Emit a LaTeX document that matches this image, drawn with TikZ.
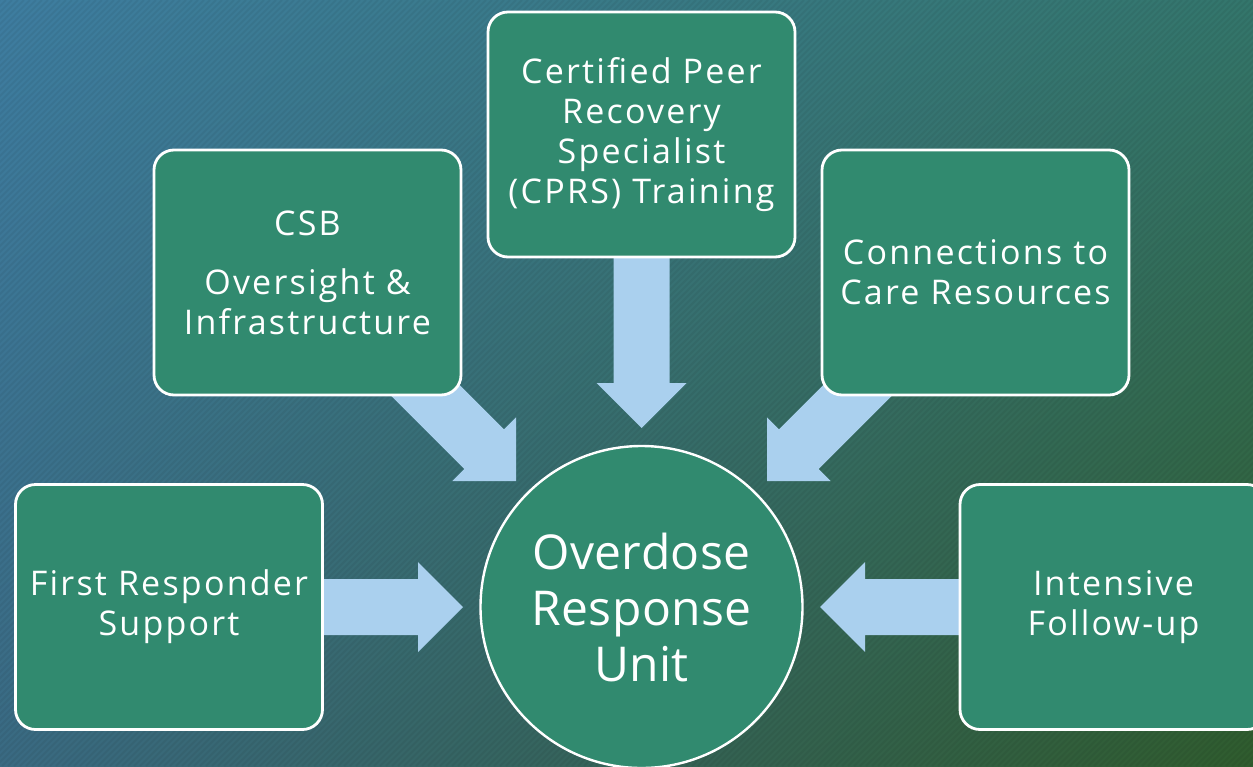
\documentclass[tikz,border=0pt]{standalone}
\usepackage{fontspec}
\setmainfont{Open Sans}
\newfontfamily\boxfont[LetterSpace=6.5]{Open Sans}
\newfontfamily\hubfont[LetterSpace=1]{Open Sans}
\usetikzlibrary{calc,shadings}
\definecolor{boxgreen}{HTML}{318A6F}
\definecolor{arrowblue}{HTML}{AAD0EE}
\definecolor{bgTL}{HTML}{3E7DA0}
\definecolor{bgTR}{HTML}{34766C}
\definecolor{bgBL}{HTML}{3A6A82}
\definecolor{bgBR}{HTML}{305C2E}
\newcommand\bigarrow[2]{%
  \path ($(#2)!45pt!(#1)$) coordinate (#2-b);
  \fill[arrowblue] ($(#1)!28pt!90:(#2)$) -- ($(#2-b)!28pt!90:(#2)$) -- ($(#2-b)!45pt!90:(#2)$)
    -- (#2) -- ($(#2-b)!45pt!-90:(#2)$) -- ($(#2-b)!28pt!-90:(#2)$) -- ($(#1)!28pt!-90:(#2)$) -- cycle;
}
\tikzset{
  infobox/.style={draw=white, line width=2.8pt, fill=boxgreen, rounded corners=20pt,
    minimum width=307pt, minimum height=245pt, text=white, align=center,
    font=\boxfont\fontsize{34}{40}\selectfont, inner sep=0pt},
  hub/.style={circle, draw=white, line width=2.4pt, fill=boxgreen, minimum size=322pt,
    text=white, align=center, font=\hubfont\fontsize{48}{56}\selectfont, inner sep=0pt}
}
\begin{document}
\begin{tikzpicture}[x=1pt,y=-1pt]
\useasboundingbox (0,0) rectangle (1253,766);
\shade[upper left=bgTL, upper right=bgTR, lower left=bgBL, lower right=bgBR] (0,0) rectangle (1253,766);
\begin{scope}
  \clip (0,0) rectangle (1253,766);
  \foreach \i in {0,6,...,2022} \draw[black, opacity=0.05, line width=2pt] (\i,0) -- ++(-766,766);
\end{scope}
% anchor coordinates for the block arrows
\coordinate (tS) at (641.5,250);  \coordinate (tT) at (641.5,428);
\coordinate (lS) at (400,365);    \coordinate (lT) at (516,481);
\coordinate (rS) at (883,365);    \coordinate (rT) at (767,481);
\coordinate (wS) at (310,607);    \coordinate (wT) at (463,607);
\coordinate (eS) at (975,607);    \coordinate (eT) at (820,607);
\bigarrow{tS}{tT}
\bigarrow{lS}{lT}
\bigarrow{rS}{rT}
\bigarrow{wS}{wT}
\bigarrow{eS}{eT}
% boxes
\node[infobox] (cprs) at (641.5,134.5) {Certified Peer\\Recovery\\Specialist\\(CPRS) Training};
\node[infobox] (csb) at (307.5,272.5) {CSB\\[19pt]Oversight \&\\Infrastructure};
\node[infobox] (conn) at (975.5,272.5) {Connections to\\Care Resources};
\node[infobox] (first) at (169,607) {First Responder\\Support};
\node[infobox] (follow) at (1113.5,607) {Intensive\\Follow-up};
\node[hub] (unit) at (641.5,607) {Overdose\\Response\\Unit};
\end{tikzpicture}
\end{document}
